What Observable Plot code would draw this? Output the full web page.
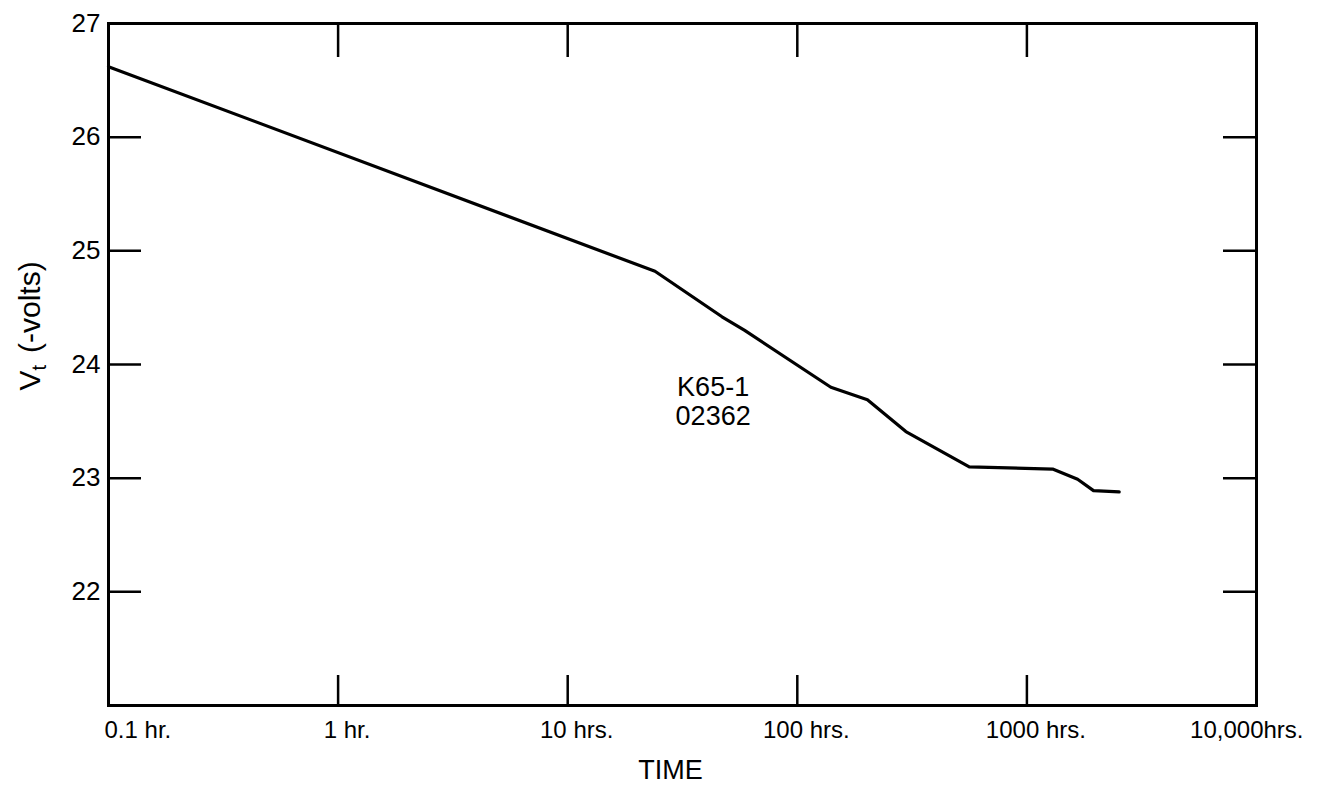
<!DOCTYPE html>
<html><head><meta charset="utf-8">
<script src="https://cdn.jsdelivr.net/npm/d3@7"></script>
<script src="https://cdn.jsdelivr.net/npm/@observablehq/plot@0.6"></script>
<style>body{margin:0;background:#fff}</style>
</head><body><div id="chart"></div>
<script>
// ---- data ----
const hours = [0.1, 24, 47, 59, 140, 202, 297, 561, 1294, 1663, 1950, 2523];
const volts = [26.62, 24.82, 24.42, 24.30, 23.80, 23.69, 23.41, 23.10, 23.08, 22.99, 22.89, 22.88];
const xTickValues = [0.1, 1, 10, 100, 1000, 10000];
const xTickLabels = ["0.1 hr.", "1 hr.", "10 hrs.", "100 hrs.", "1000 hrs.", "10,000hrs."];
const yTickValues = [22, 23, 24, 25, 26, 27];
const seriesLabel = ["K65-1", "02362"];
const seriesLabelHours = [43];
const seriesLabelVolts = [23.68];
const xLabel = "TIME";
const yLabelMain = "V", yLabelSub = "t", yLabelRest = "(-volts)";

// ---- build ----
const data = hours.map((h, i) => ({hours: h, volts: volts[i]}));
const W = 1318, H = 788, mL = 108, mR = 62, mT = 23, mB = 83;
const plotW = W - mL - mR, plotH = H - mT - mB;
const font = "'Liberation Sans', Arial, sans-serif";
const fmt = d => xTickLabels[xTickValues.indexOf(d)];
const annot = seriesLabelHours.map((h, i) => ({hours: h, volts: seriesLabelVolts[i], text: seriesLabel.join("\n")}));

const plot = Plot.plot({
  width: W, height: H,
  marginLeft: mL, marginRight: mR, marginTop: mT, marginBottom: mB,
  style: {fontFamily: font, background: "#fff", color: "#000"},
  x: {type: "log", domain: [0.1, 10000]},
  y: {domain: [21, 27]},
  marks: [
    Plot.tickX(xTickValues, {x: d => d, stroke: "#000", strokeWidth: 2.5, insetTop: plotH - 30}),
    Plot.tickX(xTickValues, {x: d => d, stroke: "#000", strokeWidth: 2.5, insetBottom: plotH - 34}),
    Plot.tickY(yTickValues, {y: d => d, stroke: "#000", strokeWidth: 2.5, insetRight: plotW - 33}),
    Plot.tickY(yTickValues, {y: d => d, stroke: "#000", strokeWidth: 2.5, insetLeft: plotW - 33}),
    Plot.frame({stroke: "#000", strokeWidth: 3}),
    Plot.axisY(yTickValues, {tickSize: 0, tickPadding: 8, fontSize: 26, label: null, tickFormat: d => String(d)}),
    Plot.axisX([xTickValues[0]], {tickSize: 0, tickPadding: 15, fontSize: 24, label: null, textAnchor: "start", dx: -4, tickFormat: fmt}),
    Plot.axisX(xTickValues.slice(1, -1), {tickSize: 0, tickPadding: 15, fontSize: 24, label: null, textAnchor: "middle", dx: 9, tickFormat: fmt}),
    Plot.axisX(xTickValues.slice(-1), {tickSize: 0, tickPadding: 15, fontSize: 24, label: null, textAnchor: "end", dx: 47, tickFormat: fmt}),
    Plot.line(data, {x: "hours", y: "volts", stroke: "#000", strokeWidth: 3.2, strokeLinejoin: "round"}),
    Plot.text(annot, {x: "hours", y: "volts", text: "text", fontSize: 27, lineHeight: 1.07, fill: "#000"}),
    Plot.text([xLabel], {frameAnchor: "bottom", dy: 65, dx: -12, fontSize: 27, lineAnchor: "middle", fill: "#000"})
  ]
});

const svg = d3.select(plot);
const t = svg.append("text")
  .attr("transform", "translate(40,326) rotate(-90)")
  .attr("text-anchor", "middle")
  .attr("font-family", font)
  .attr("font-size", 30)
  .attr("fill", "#000");
t.append("tspan").text(yLabelMain);
t.append("tspan").attr("font-size", 20).attr("dy", 6).text(yLabelSub);
t.append("tspan").attr("dy", -6).attr("dx", 12).text(yLabelRest);

document.getElementById("chart").appendChild(plot);
</script>
</body></html>
